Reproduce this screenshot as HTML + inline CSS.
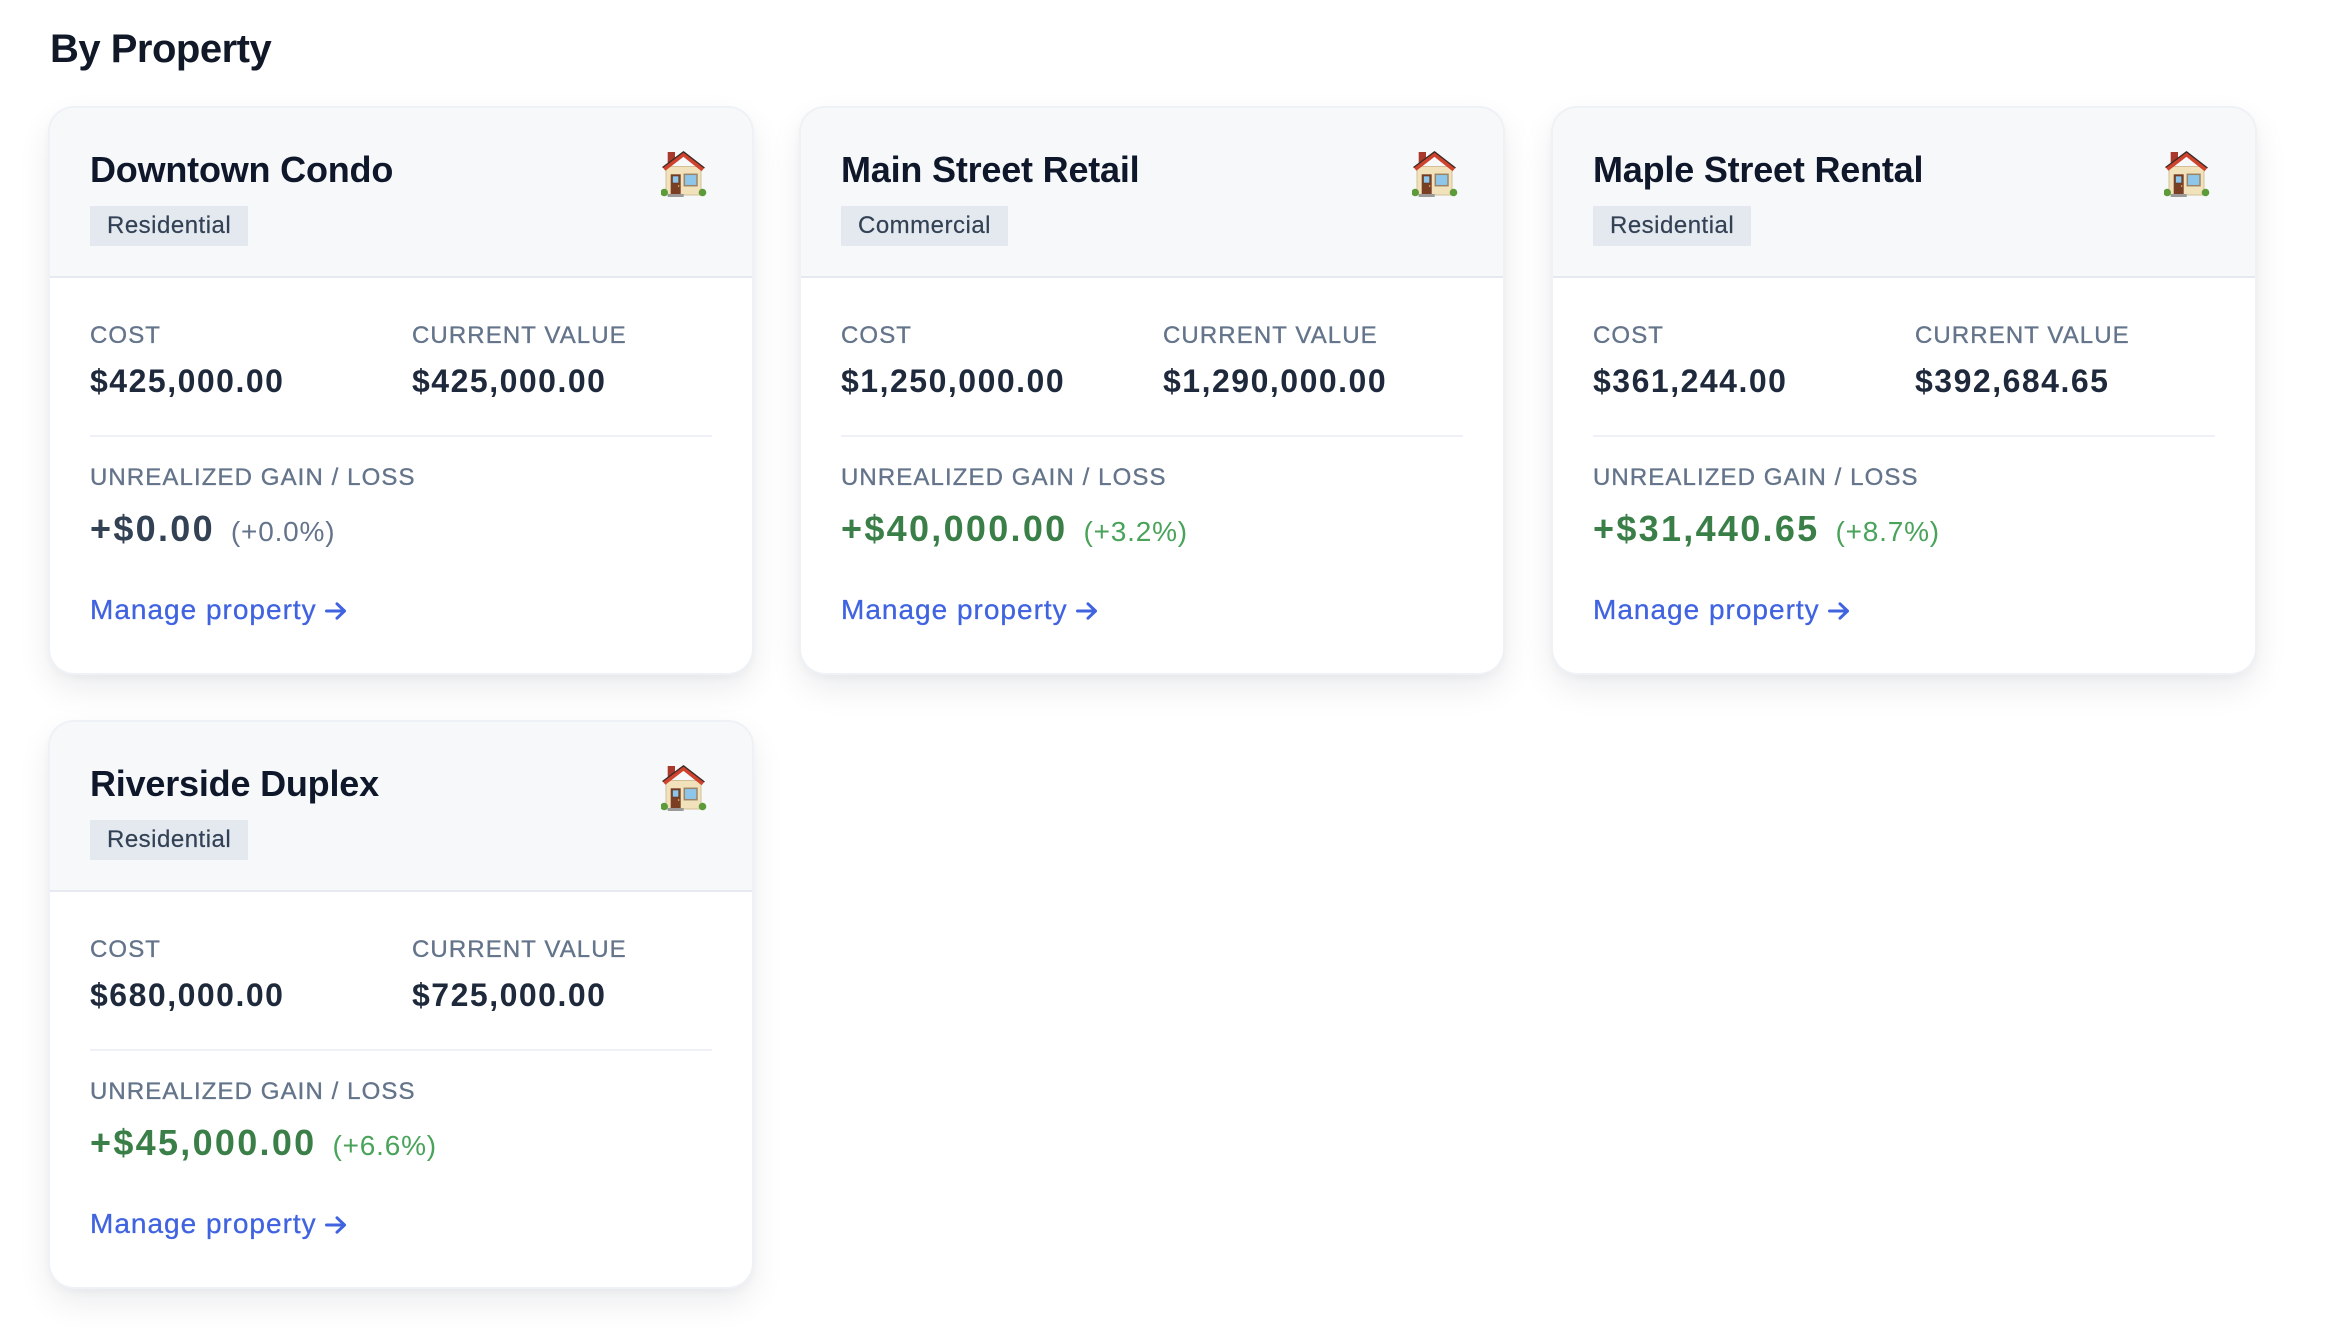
<!DOCTYPE html>
<html>
<head>
<meta charset="utf-8">
<style>
  html,body{margin:0;padding:0;background:#fff;}
  body{width:2338px;height:1328px;overflow:hidden;position:relative;font-family:"Liberation Sans",sans-serif;}
  h2{position:absolute;left:50px;top:21px;margin:0;font:700 40px/56px "Liberation Sans",sans-serif;color:#111827;letter-spacing:-0.5px;}
  .card{position:absolute;width:702px;height:565px;border-radius:24px;background:#fff;overflow:hidden;
    box-shadow:0 0 0 2px #eef1f5, 0 14px 34px rgba(15,23,42,0.085), 0 4px 10px rgba(15,23,42,0.045);}
  .hd{position:absolute;left:0;top:0;width:702px;height:168px;background:#f6f8fa;border-bottom:2px solid #e6eaf0;}
  .title{position:absolute;left:40px;top:40px;font:700 36px/44px "Liberation Sans",sans-serif;color:#0f172a;letter-spacing:-0.2px;white-space:nowrap;}
  .badge{position:absolute;left:40px;top:98px;height:40px;line-height:39px;padding:0 17px;background:#e4e9f0;color:#334155;font-size:24px;letter-spacing:0.5px;white-space:nowrap;-webkit-text-stroke:0.2px #334155;}
  .ico{position:absolute;left:611px;top:43px;}
  .lbl{position:absolute;font:400 24px/32px "Liberation Sans",sans-serif;letter-spacing:1.1px;color:#64748b;white-space:nowrap;-webkit-text-stroke:0.35px #64748b;}
  .l1{top:212px;}
  .l2{top:354px;left:40px;}
  .c1{left:40px;}
  .c2{left:362px;}
  .val{position:absolute;top:249px;font:700 32px/48px "Liberation Sans",sans-serif;letter-spacing:1.5px;color:#1e293b;white-space:nowrap;}
  .dv{position:absolute;left:40px;top:327px;width:622px;height:2px;background:#eef2f6;}
  .gain{position:absolute;left:40px;top:393px;font:700 36px/56px "Liberation Sans",sans-serif;letter-spacing:2.3px;white-space:nowrap;color:#3a7f47;}
  .pct{font-size:28px;font-weight:400;letter-spacing:0.8px;margin-left:16px;color:#4aa35a;}
  .gain.zero{color:#334155;}
  .gain.zero .pct{color:#64748b;}
  .link{position:absolute;left:40px;top:482px;font:400 28px/40px "Liberation Sans",sans-serif;letter-spacing:1px;color:#4063e0;white-space:nowrap;-webkit-text-stroke:0.3px #4063e0;}
  .link svg{vertical-align:-1px;margin-left:8px;}
</style>
</head>
<body>
<h2>By Property</h2>

<!-- Card 1 -->
<div class="card" style="left:50px;top:108px;">
  <div class="hd"></div>
  <div class="title">Downtown Condo</div>
  <div class="badge">Residential</div>
  <svg class="ico" width="46" height="46" viewBox="0 0 46 46">
    <rect x="6.7" y="1" width="7.3" height="11" fill="#a8392b"/>
    <rect x="5" y="15.5" width="35" height="28.5" fill="#f2e2bb" stroke="#c9b48a" stroke-width="0.8"/>
    <polyline points="3,18 22.5,3 42,18.5" fill="none" stroke="#cf432e" stroke-width="4.5" stroke-linejoin="round"/>
    <polyline points="1.5,16.5 22.5,0.8 43.5,17" fill="none" stroke="#3a2a25" stroke-width="1.3" stroke-linejoin="round"/>
    <rect x="9.7" y="23.3" width="10" height="19.7" fill="#7a3e24"/>
    <rect x="11.5" y="25" width="6.2" height="7" fill="#8ec5ea" stroke="#5b3a2a" stroke-width="0.6"/>
    <circle cx="17.6" cy="35" r="0.8" fill="#e9c46a"/>
    <rect x="23.3" y="23.3" width="12.7" height="11.4" fill="#8ec5ea" stroke="#9b8566" stroke-width="1.5"/>
    <rect x="6.7" y="43" width="16" height="3" fill="#9a9a9a"/>
    <circle cx="3.2" cy="41.5" r="3.8" fill="#5d9b3a"/>
    <circle cx="41.5" cy="41.5" r="3.8" fill="#5d9b3a"/>
  </svg>
  <div class="lbl l1 c1">COST</div>
  <div class="lbl l1 c2">CURRENT VALUE</div>
  <div class="val c1">$425,000.00</div>
  <div class="val c2">$425,000.00</div>
  <div class="dv"></div>
  <div class="lbl l2">UNREALIZED GAIN / LOSS</div>
  <div class="gain zero">+$0.00<span class="pct">(+0.0%)</span></div>
  <div class="link">Manage property<svg width="22" height="18" viewBox="0 0 22 18"><path d="M1.5 9H19.5M12 1.8L19.5 9L12 16.2" stroke="#4063e0" stroke-width="3" fill="none" stroke-linecap="round" stroke-linejoin="round"/></svg></div>
</div>

<!-- Card 2 -->
<div class="card" style="left:801px;top:108px;">
  <div class="hd"></div>
  <div class="title">Main Street Retail</div>
  <div class="badge">Commercial</div>
  <svg class="ico" width="46" height="46" viewBox="0 0 46 46">
    <rect x="6.7" y="1" width="7.3" height="11" fill="#a8392b"/>
    <rect x="5" y="15.5" width="35" height="28.5" fill="#f2e2bb" stroke="#c9b48a" stroke-width="0.8"/>
    <polyline points="3,18 22.5,3 42,18.5" fill="none" stroke="#cf432e" stroke-width="4.5" stroke-linejoin="round"/>
    <polyline points="1.5,16.5 22.5,0.8 43.5,17" fill="none" stroke="#3a2a25" stroke-width="1.3" stroke-linejoin="round"/>
    <rect x="9.7" y="23.3" width="10" height="19.7" fill="#7a3e24"/>
    <rect x="11.5" y="25" width="6.2" height="7" fill="#8ec5ea" stroke="#5b3a2a" stroke-width="0.6"/>
    <circle cx="17.6" cy="35" r="0.8" fill="#e9c46a"/>
    <rect x="23.3" y="23.3" width="12.7" height="11.4" fill="#8ec5ea" stroke="#9b8566" stroke-width="1.5"/>
    <rect x="6.7" y="43" width="16" height="3" fill="#9a9a9a"/>
    <circle cx="3.2" cy="41.5" r="3.8" fill="#5d9b3a"/>
    <circle cx="41.5" cy="41.5" r="3.8" fill="#5d9b3a"/>
  </svg>
  <div class="lbl l1 c1">COST</div>
  <div class="lbl l1 c2">CURRENT VALUE</div>
  <div class="val c1">$1,250,000.00</div>
  <div class="val c2">$1,290,000.00</div>
  <div class="dv"></div>
  <div class="lbl l2">UNREALIZED GAIN / LOSS</div>
  <div class="gain">+$40,000.00<span class="pct">(+3.2%)</span></div>
  <div class="link">Manage property<svg width="22" height="18" viewBox="0 0 22 18"><path d="M1.5 9H19.5M12 1.8L19.5 9L12 16.2" stroke="#4063e0" stroke-width="3" fill="none" stroke-linecap="round" stroke-linejoin="round"/></svg></div>
</div>

<!-- Card 3 -->
<div class="card" style="left:1553px;top:108px;">
  <div class="hd"></div>
  <div class="title">Maple Street Rental</div>
  <div class="badge">Residential</div>
  <svg class="ico" width="46" height="46" viewBox="0 0 46 46">
    <rect x="6.7" y="1" width="7.3" height="11" fill="#a8392b"/>
    <rect x="5" y="15.5" width="35" height="28.5" fill="#f2e2bb" stroke="#c9b48a" stroke-width="0.8"/>
    <polyline points="3,18 22.5,3 42,18.5" fill="none" stroke="#cf432e" stroke-width="4.5" stroke-linejoin="round"/>
    <polyline points="1.5,16.5 22.5,0.8 43.5,17" fill="none" stroke="#3a2a25" stroke-width="1.3" stroke-linejoin="round"/>
    <rect x="9.7" y="23.3" width="10" height="19.7" fill="#7a3e24"/>
    <rect x="11.5" y="25" width="6.2" height="7" fill="#8ec5ea" stroke="#5b3a2a" stroke-width="0.6"/>
    <circle cx="17.6" cy="35" r="0.8" fill="#e9c46a"/>
    <rect x="23.3" y="23.3" width="12.7" height="11.4" fill="#8ec5ea" stroke="#9b8566" stroke-width="1.5"/>
    <rect x="6.7" y="43" width="16" height="3" fill="#9a9a9a"/>
    <circle cx="3.2" cy="41.5" r="3.8" fill="#5d9b3a"/>
    <circle cx="41.5" cy="41.5" r="3.8" fill="#5d9b3a"/>
  </svg>
  <div class="lbl l1 c1">COST</div>
  <div class="lbl l1 c2">CURRENT VALUE</div>
  <div class="val c1">$361,244.00</div>
  <div class="val c2">$392,684.65</div>
  <div class="dv"></div>
  <div class="lbl l2">UNREALIZED GAIN / LOSS</div>
  <div class="gain">+$31,440.65<span class="pct">(+8.7%)</span></div>
  <div class="link">Manage property<svg width="22" height="18" viewBox="0 0 22 18"><path d="M1.5 9H19.5M12 1.8L19.5 9L12 16.2" stroke="#4063e0" stroke-width="3" fill="none" stroke-linecap="round" stroke-linejoin="round"/></svg></div>
</div>

<!-- Card 4 -->
<div class="card" style="left:50px;top:722px;">
  <div class="hd"></div>
  <div class="title">Riverside Duplex</div>
  <div class="badge">Residential</div>
  <svg class="ico" width="46" height="46" viewBox="0 0 46 46">
    <rect x="6.7" y="1" width="7.3" height="11" fill="#a8392b"/>
    <rect x="5" y="15.5" width="35" height="28.5" fill="#f2e2bb" stroke="#c9b48a" stroke-width="0.8"/>
    <polyline points="3,18 22.5,3 42,18.5" fill="none" stroke="#cf432e" stroke-width="4.5" stroke-linejoin="round"/>
    <polyline points="1.5,16.5 22.5,0.8 43.5,17" fill="none" stroke="#3a2a25" stroke-width="1.3" stroke-linejoin="round"/>
    <rect x="9.7" y="23.3" width="10" height="19.7" fill="#7a3e24"/>
    <rect x="11.5" y="25" width="6.2" height="7" fill="#8ec5ea" stroke="#5b3a2a" stroke-width="0.6"/>
    <circle cx="17.6" cy="35" r="0.8" fill="#e9c46a"/>
    <rect x="23.3" y="23.3" width="12.7" height="11.4" fill="#8ec5ea" stroke="#9b8566" stroke-width="1.5"/>
    <rect x="6.7" y="43" width="16" height="3" fill="#9a9a9a"/>
    <circle cx="3.2" cy="41.5" r="3.8" fill="#5d9b3a"/>
    <circle cx="41.5" cy="41.5" r="3.8" fill="#5d9b3a"/>
  </svg>
  <div class="lbl l1 c1">COST</div>
  <div class="lbl l1 c2">CURRENT VALUE</div>
  <div class="val c1">$680,000.00</div>
  <div class="val c2">$725,000.00</div>
  <div class="dv"></div>
  <div class="lbl l2">UNREALIZED GAIN / LOSS</div>
  <div class="gain">+$45,000.00<span class="pct">(+6.6%)</span></div>
  <div class="link">Manage property<svg width="22" height="18" viewBox="0 0 22 18"><path d="M1.5 9H19.5M12 1.8L19.5 9L12 16.2" stroke="#4063e0" stroke-width="3" fill="none" stroke-linecap="round" stroke-linejoin="round"/></svg></div>
</div>
</body>
</html>
